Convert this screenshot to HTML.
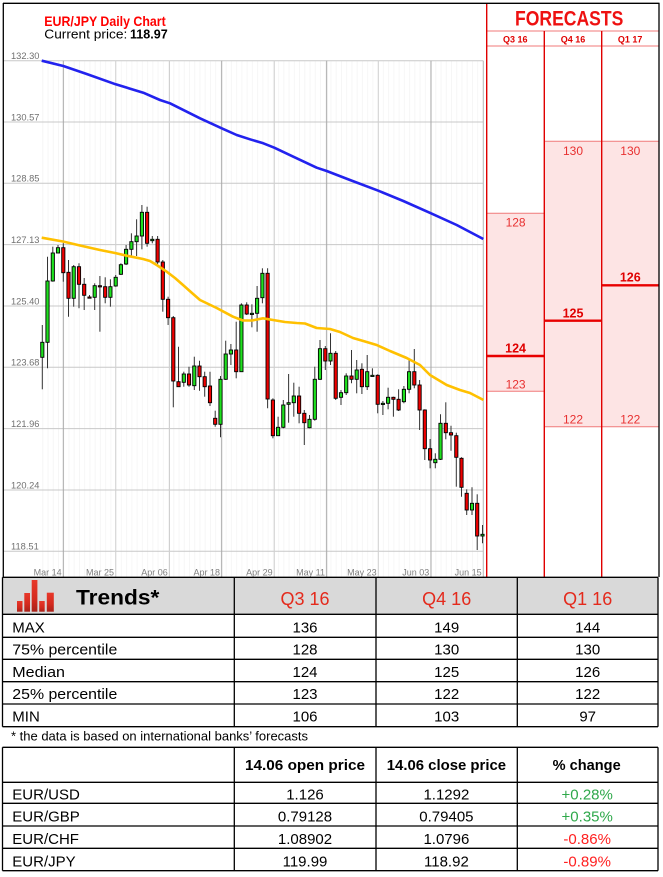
<!DOCTYPE html>
<html><head><meta charset="utf-8"><style>
html,body{margin:0;padding:0;background:#fff;}
svg{display:block;}
text{font-family:"Liberation Sans",sans-serif;}
.g{fill:#1ee01e;stroke:#000;stroke-width:.9}
.r{fill:#ee0000;stroke:#000;stroke-width:.9}
.yl{font-size:9.3px;fill:#707070}
.xl{font-size:9px;fill:#808080;text-anchor:end}
.fc{font-size:12px;fill:#e83030;text-anchor:middle}
.fb{font-size:12.5px;fill:#e00000;font-weight:bold;text-anchor:middle}
.tb{font-size:15px;fill:#000}
.tc{font-size:15px;fill:#000;text-anchor:middle}
.th{font-size:14.5px;fill:#000;font-weight:bold;text-anchor:middle}
</style></head><body>
<svg width="663" height="877" viewBox="0 0 663 877" xmlns="http://www.w3.org/2000/svg">
<defs>
<linearGradient id="bar" x1="0" y1="0" x2="0" y2="1"><stop offset="0" stop-color="#e8382a"/><stop offset="0.6" stop-color="#d42a1e"/><stop offset="1" stop-color="#a8221a"/></linearGradient>
<pattern id="mg" x="42.3" y="0" width="5.24" height="20" patternUnits="userSpaceOnUse"><line x1="0.5" y1="0" x2="0.5" y2="20" stroke="#f6f6f6" stroke-width="1"/></pattern>
</defs>
<rect width="663" height="877" fill="#fff"/>

<!-- minor grid -->
<rect x="41" y="61" width="442" height="516" fill="url(#mg)"/>

<!-- horizontal gridlines -->
<g stroke="#c8c8c8" stroke-width="1">
<line x1="3.5" y1="60.7" x2="483.3" y2="60.7"/>
<line x1="3.5" y1="122" x2="483.3" y2="122"/>
<line x1="3.5" y1="183.3" x2="483.3" y2="183.3"/>
<line x1="3.5" y1="244.6" x2="483.3" y2="244.6"/>
<line x1="3.5" y1="306" x2="483.3" y2="306"/>
<line x1="3.5" y1="367.3" x2="483.3" y2="367.3"/>
<line x1="3.5" y1="428.6" x2="483.3" y2="428.6"/>
<line x1="3.5" y1="490" x2="483.3" y2="490"/>
<line x1="3.5" y1="551.3" x2="483.3" y2="551.3"/>
</g>
<!-- vertical gridlines -->
<g stroke-width="1">
<line x1="63.3" y1="60.7" x2="63.3" y2="577" stroke="#a8a8a8"/>
<line x1="115.7" y1="60.7" x2="115.7" y2="577" stroke="#d0d0d0"/>
<line x1="169.5" y1="60.7" x2="169.5" y2="577" stroke="#d0d0d0"/>
<line x1="221.7" y1="60.7" x2="221.7" y2="577" stroke="#a8a8a8"/>
<line x1="274.3" y1="60.7" x2="274.3" y2="577" stroke="#d0d0d0"/>
<line x1="326.7" y1="60.7" x2="326.7" y2="577" stroke="#a8a8a8"/>
<line x1="378.3" y1="60.7" x2="378.3" y2="577" stroke="#d0d0d0"/>
<line x1="431" y1="60.7" x2="431" y2="577" stroke="#a8a8a8"/>
<line x1="483.3" y1="60.7" x2="483.3" y2="577" stroke="#b8b8b8"/>
</g>

<!-- y labels -->
<text class="yl" x="11" y="59">132.30</text>
<text class="yl" x="11" y="120.3">130.57</text>
<text class="yl" x="11" y="181.6">128.85</text>
<text class="yl" x="11" y="242.9">127.13</text>
<text class="yl" x="11" y="304.3">125.40</text>
<text class="yl" x="11" y="365.6">123.68</text>
<text class="yl" x="11" y="426.9">121.96</text>
<text class="yl" x="11" y="488.3">120.24</text>
<text class="yl" x="11" y="549.6">118.51</text>

<!-- x labels -->
<text class="xl" x="61.6" y="575.5">Mar 14</text>
<text class="xl" x="114" y="575.5">Mar 25</text>
<text class="xl" x="167.8" y="575.5">Apr 06</text>
<text class="xl" x="220" y="575.5">Apr 18</text>
<text class="xl" x="272.6" y="575.5">Apr 29</text>
<text class="xl" x="325" y="575.5">May 11</text>
<text class="xl" x="376.6" y="575.5">May 23</text>
<text class="xl" x="429.3" y="575.5">Jun 03</text>
<text class="xl" x="481.6" y="575.5">Jun 15</text>

<!-- title -->
<text x="44.3" y="26" font-size="14" font-weight="bold" fill="#ff0000" textLength="121.4" lengthAdjust="spacingAndGlyphs">EUR/JPY Daily Chart</text>
<text x="44.3" y="38.3" font-size="13" fill="#000" textLength="83" lengthAdjust="spacingAndGlyphs">Current price:</text>
<text x="130" y="38.3" font-size="13" font-weight="bold" fill="#000" textLength="37.7" lengthAdjust="spacingAndGlyphs">118.97</text>

<!-- blue MA -->
<polyline fill="none" stroke="#2222ee" stroke-width="2.6" stroke-linejoin="round" points="41.7,60.7 63.3,66 86.7,74 115.7,84.3 143.3,92.7 160,100 170,103.3 200,118.3 221.7,128.3 236.7,135 250,139.3 263.3,143.3 274.3,147.7 293.3,156.7 316.7,167.7 326.7,171 350,180 378.3,190.7 403.3,201 431,213.3 456.7,225 483.3,239"/>

<!-- candles -->
<g stroke="#333" stroke-width="1">
<line x1="42.3" y1="325" x2="42.3" y2="389.3"/>
<line x1="47.5" y1="256.7" x2="47.5" y2="368.3"/>
<line x1="52.8" y1="246.7" x2="52.8" y2="281.7"/>
<line x1="58" y1="245" x2="58" y2="253.3"/>
<line x1="63.3" y1="243.3" x2="63.3" y2="281.7"/>
<line x1="68.5" y1="260" x2="68.5" y2="316.7"/>
<line x1="73.7" y1="265" x2="73.7" y2="306.7"/>
<line x1="79" y1="263.3" x2="79" y2="308.3"/>
<line x1="84.2" y1="278" x2="84.2" y2="310"/>
<line x1="89.5" y1="295" x2="89.5" y2="298.3"/>
<line x1="94.7" y1="283.3" x2="94.7" y2="310"/>
<line x1="99.9" y1="276" x2="99.9" y2="331.7"/>
<line x1="105.2" y1="277.3" x2="105.2" y2="303.3"/>
<line x1="110.4" y1="279.3" x2="110.4" y2="306.7"/>
<line x1="115.7" y1="275" x2="115.7" y2="286.7"/>
<line x1="120.9" y1="263.3" x2="120.9" y2="275"/>
<line x1="126.1" y1="245" x2="126.1" y2="265"/>
<line x1="131.4" y1="233.3" x2="131.4" y2="256"/>
<line x1="136.6" y1="219.3" x2="136.6" y2="256"/>
<line x1="141.9" y1="205" x2="141.9" y2="249.3"/>
<line x1="147.1" y1="206.7" x2="147.1" y2="246.7"/>
<line x1="152.3" y1="236" x2="152.3" y2="243.3"/>
<line x1="157.6" y1="236" x2="157.6" y2="264"/>
<line x1="162.8" y1="260" x2="162.8" y2="311.7"/>
<line x1="168.1" y1="296.7" x2="168.1" y2="325"/>
<line x1="173.3" y1="316" x2="173.3" y2="407.3"/>
<line x1="178.5" y1="346.7" x2="178.5" y2="386.7"/>
<line x1="183.8" y1="371.7" x2="183.8" y2="386.7"/>
<line x1="189" y1="366.7" x2="189" y2="386.7"/>
<line x1="194.3" y1="356.7" x2="194.3" y2="390"/>
<line x1="199.5" y1="360.7" x2="199.5" y2="390.7"/>
<line x1="204.7" y1="371.7" x2="204.7" y2="396.7"/>
<line x1="210" y1="371.7" x2="210" y2="406"/>
<line x1="215.2" y1="410.7" x2="215.2" y2="426.7"/>
<line x1="220.5" y1="376" x2="220.5" y2="437.3"/>
<line x1="225.7" y1="340.7" x2="225.7" y2="380"/>
<line x1="230.9" y1="344" x2="230.9" y2="365"/>
<line x1="236.2" y1="321.7" x2="236.2" y2="378.3"/>
<line x1="241.4" y1="303.3" x2="241.4" y2="371.7"/>
<line x1="246.7" y1="302.3" x2="246.7" y2="315"/>
<line x1="251.9" y1="304.3" x2="251.9" y2="327.3"/>
<line x1="257.1" y1="286" x2="257.1" y2="331.7"/>
<line x1="262.4" y1="268.3" x2="262.4" y2="303.3"/>
<line x1="267.6" y1="268.3" x2="267.6" y2="408.3"/>
<line x1="272.9" y1="398.3" x2="272.9" y2="438.3"/>
<line x1="278.1" y1="416.7" x2="278.1" y2="435.7"/>
<line x1="283.3" y1="400" x2="283.3" y2="428.3"/>
<line x1="288.6" y1="374" x2="288.6" y2="422.7"/>
<line x1="293.8" y1="382.7" x2="293.8" y2="416.7"/>
<line x1="299.1" y1="386.7" x2="299.1" y2="423.3"/>
<line x1="304.3" y1="410" x2="304.3" y2="445"/>
<line x1="309.5" y1="415" x2="309.5" y2="428.3"/>
<line x1="314.8" y1="366.7" x2="314.8" y2="420.7"/>
<line x1="320" y1="340" x2="320" y2="380"/>
<line x1="325.3" y1="346" x2="325.3" y2="370"/>
<line x1="330.5" y1="333.3" x2="330.5" y2="365"/>
<line x1="335.7" y1="351" x2="335.7" y2="400"/>
<line x1="341" y1="390" x2="341" y2="405"/>
<line x1="346.2" y1="373.3" x2="346.2" y2="395"/>
<line x1="351.5" y1="350" x2="351.5" y2="383.3"/>
<line x1="356.7" y1="360" x2="356.7" y2="393.3"/>
<line x1="361.9" y1="363.3" x2="361.9" y2="394"/>
<line x1="367.2" y1="355" x2="367.2" y2="390"/>
<line x1="372.4" y1="368.3" x2="372.4" y2="376.7"/>
<line x1="377.7" y1="374.3" x2="377.7" y2="413.3"/>
<line x1="382.9" y1="401" x2="382.9" y2="415"/>
<line x1="388.1" y1="387.7" x2="388.1" y2="409.3"/>
<line x1="393.4" y1="396.7" x2="393.4" y2="416.7"/>
<line x1="398.6" y1="389.3" x2="398.6" y2="411"/>
<line x1="403.9" y1="386" x2="403.9" y2="403.3"/>
<line x1="409.1" y1="360" x2="409.1" y2="393.3"/>
<line x1="414.3" y1="349" x2="414.3" y2="388.3"/>
<line x1="419.6" y1="380" x2="419.6" y2="430"/>
<line x1="424.8" y1="409.3" x2="424.8" y2="460"/>
<line x1="430.1" y1="439" x2="430.1" y2="468.3"/>
<line x1="435.3" y1="453.3" x2="435.3" y2="468.3"/>
<line x1="440.5" y1="414.3" x2="440.5" y2="460"/>
<line x1="445.8" y1="402.3" x2="445.8" y2="439.3"/>
<line x1="451" y1="425.7" x2="451" y2="450.7"/>
<line x1="456.3" y1="432.7" x2="456.3" y2="486.7"/>
<line x1="461.5" y1="457.3" x2="461.5" y2="496.7"/>
<line x1="466.7" y1="489.3" x2="466.7" y2="515"/>
<line x1="472" y1="487.3" x2="472" y2="515"/>
<line x1="477.2" y1="494.3" x2="477.2" y2="550"/>
<line x1="482.5" y1="525" x2="482.5" y2="543.3"/>
</g>
<g>
<rect class="g" x="40.7" y="342.3" width="3.2" height="15"/>
<rect class="g" x="45.9" y="281" width="3.2" height="61.3"/>
<rect class="g" x="51.2" y="253" width="3.2" height="28"/>
<rect class="g" x="56.4" y="247.7" width="3.2" height="5.3"/>
<rect class="r" x="61.7" y="247.7" width="3.2" height="25"/>
<rect class="r" x="66.9" y="272.3" width="3.2" height="26"/>
<rect class="g" x="72.1" y="266.7" width="3.2" height="31.6"/>
<rect class="r" x="77.4" y="266.7" width="3.2" height="17.6"/>
<rect class="r" x="82.6" y="284.3" width="3.2" height="11"/>
<rect class="r" x="87.9" y="297" width="3.2" height="1.2"/>
<rect class="g" x="93.1" y="285.7" width="3.2" height="11.6"/>
<rect class="r" x="98.3" y="285.7" width="3.2" height="1.2"/>
<rect class="r" x="103.6" y="286.7" width="3.2" height="10.6"/>
<rect class="g" x="108.8" y="286.7" width="3.2" height="10.6"/>
<rect class="g" x="114.1" y="277.3" width="3.2" height="8.7"/>
<rect class="g" x="119.3" y="264.7" width="3.2" height="9.6"/>
<rect class="g" x="124.5" y="249.3" width="3.2" height="14.7"/>
<rect class="g" x="129.8" y="241.7" width="3.2" height="7.6"/>
<rect class="g" x="135" y="236" width="3.2" height="5.7"/>
<rect class="g" x="140.3" y="212.3" width="3.2" height="23.7"/>
<rect class="r" x="145.5" y="212.3" width="3.2" height="31"/>
<rect class="g" x="150.7" y="239.3" width="3.2" height="1.4"/>
<rect class="r" x="156" y="239.3" width="3.2" height="22.7"/>
<rect class="r" x="161.2" y="262" width="3.2" height="37.3"/>
<rect class="r" x="166.5" y="299.3" width="3.2" height="18.4"/>
<rect class="r" x="171.7" y="317.7" width="3.2" height="63.3"/>
<rect class="r" x="176.9" y="381.7" width="3.2" height="5"/>
<rect class="g" x="182.2" y="374" width="3.2" height="8.3"/>
<rect class="r" x="187.4" y="374" width="3.2" height="11"/>
<rect class="g" x="192.7" y="366" width="3.2" height="19.7"/>
<rect class="r" x="197.9" y="366" width="3.2" height="10.7"/>
<rect class="r" x="203.1" y="376.7" width="3.2" height="10"/>
<rect class="r" x="208.4" y="386" width="3.2" height="16.7"/>
<rect class="r" x="213.6" y="418.3" width="3.2" height="6"/>
<rect class="g" x="218.9" y="379.3" width="3.2" height="45"/>
<rect class="g" x="224.1" y="354" width="3.2" height="25.3"/>
<rect class="g" x="229.3" y="350" width="3.2" height="4"/>
<rect class="r" x="234.6" y="350" width="3.2" height="21.7"/>
<rect class="g" x="239.8" y="305" width="3.2" height="66.7"/>
<rect class="r" x="245.1" y="305" width="3.2" height="9"/>
<rect class="g" x="250.3" y="313.3" width="3.2" height="1.2"/>
<rect class="g" x="255.5" y="298.3" width="3.2" height="15"/>
<rect class="g" x="260.8" y="273.3" width="3.2" height="24.4"/>
<rect class="r" x="266" y="273.3" width="3.2" height="125.7"/>
<rect class="r" x="271.3" y="400" width="3.2" height="35.7"/>
<rect class="g" x="276.5" y="427.3" width="3.2" height="8.4"/>
<rect class="g" x="281.7" y="405" width="3.2" height="22.3"/>
<rect class="g" x="287" y="402.7" width="3.2" height="1.6"/>
<rect class="g" x="292.2" y="396" width="3.2" height="6.7"/>
<rect class="r" x="297.5" y="396" width="3.2" height="17.3"/>
<rect class="r" x="302.7" y="413.3" width="3.2" height="9.4"/>
<rect class="g" x="307.9" y="419.3" width="3.2" height="8.4"/>
<rect class="g" x="313.2" y="379.3" width="3.2" height="40"/>
<rect class="g" x="318.4" y="348.7" width="3.2" height="30.6"/>
<rect class="r" x="323.7" y="348.7" width="3.2" height="12.3"/>
<rect class="g" x="328.9" y="353.3" width="3.2" height="7.7"/>
<rect class="r" x="334.1" y="353.3" width="3.2" height="45"/>
<rect class="g" x="339.4" y="392.7" width="3.2" height="4.6"/>
<rect class="g" x="344.6" y="376" width="3.2" height="16.7"/>
<rect class="r" x="349.9" y="376" width="3.2" height="3.3"/>
<rect class="g" x="355.1" y="370" width="3.2" height="9.3"/>
<rect class="r" x="360.3" y="369.3" width="3.2" height="17.4"/>
<rect class="g" x="365.6" y="371.7" width="3.2" height="15"/>
<rect class="g" x="370.8" y="375.3" width="3.2" height="1.2"/>
<rect class="r" x="376.1" y="375.3" width="3.2" height="29"/>
<rect class="g" x="381.3" y="403.3" width="3.2" height="1.2"/>
<rect class="g" x="386.5" y="397.3" width="3.2" height="6"/>
<rect class="r" x="391.8" y="397.3" width="3.2" height="2"/>
<rect class="r" x="397" y="399.3" width="3.2" height="10.7"/>
<rect class="g" x="402.3" y="389.3" width="3.2" height="12.4"/>
<rect class="g" x="407.5" y="371.7" width="3.2" height="17.6"/>
<rect class="r" x="412.7" y="371.7" width="3.2" height="13.3"/>
<rect class="r" x="418" y="385" width="3.2" height="25"/>
<rect class="r" x="423.2" y="410" width="3.2" height="38.7"/>
<rect class="r" x="428.5" y="448.7" width="3.2" height="11.3"/>
<rect class="g" x="433.7" y="459.3" width="3.2" height="3.4"/>
<rect class="g" x="438.9" y="423.3" width="3.2" height="36"/>
<rect class="r" x="444.2" y="423.3" width="3.2" height="9.4"/>
<rect class="r" x="449.4" y="432.7" width="3.2" height="2.3"/>
<rect class="r" x="454.7" y="435.7" width="3.2" height="21.6"/>
<rect class="r" x="459.9" y="458.3" width="3.2" height="29"/>
<rect class="r" x="465.1" y="493.3" width="3.2" height="16.7"/>
<rect class="g" x="470.4" y="503.3" width="3.2" height="6.7"/>
<rect class="r" x="475.6" y="503.3" width="3.2" height="32.7"/>
<rect class="g" x="480.9" y="534.3" width="3.2" height="1.7"/>
</g>

<!-- yellow MA -->
<polyline fill="none" stroke="#ffc000" stroke-width="2.6" stroke-linejoin="round" points="41.7,237.7 63,241.5 80,245.5 100,250 115,253 126.7,255.7 143,259 150,261 156.7,265 166.7,271.7 175,278 183,285 192,293 200,300 216.7,308 233,316.7 243,320.5 252,320.5 263,318.3 273,320 285,322 296.7,323 305,323.5 316.7,328 330,329 340,332 353,338 365,341.5 376.7,345 390,351 406.7,358 420,365 430,375 446.7,385 460,390 470,393 483.5,400"/>

<!-- FORECAST panel -->
<rect x="487" y="213.3" width="57.3" height="178" fill="#fde4e4"/>
<rect x="544.3" y="141.3" width="57.4" height="285.4" fill="#fde4e4"/>
<rect x="601.7" y="141.3" width="57.3" height="285.4" fill="#fde4e4"/>
<g stroke="#f07a7a" stroke-width="1">
<line x1="487" y1="213.3" x2="544.3" y2="213.3"/>
<line x1="487" y1="391.3" x2="544.3" y2="391.3"/>
<line x1="544.3" y1="141.3" x2="659" y2="141.3"/>
<line x1="544.3" y1="426.7" x2="659" y2="426.7"/>
<line x1="487" y1="31" x2="659" y2="31"/>
<line x1="487" y1="46" x2="659" y2="46"/>
</g>
<g stroke="#e80000" stroke-width="2.4">
<line x1="487" y1="356" x2="544.3" y2="356"/>
<line x1="544.3" y1="320.7" x2="601.7" y2="320.7"/>
<line x1="601.7" y1="285.3" x2="659" y2="285.3"/>
</g>
<g stroke="#e00000" stroke-width="1.4">
<line x1="486.7" y1="3" x2="486.7" y2="577"/>
<line x1="544.3" y1="31" x2="544.3" y2="577"/>
<line x1="601.7" y1="31" x2="601.7" y2="577"/>
</g>
<text x="515" y="25.3" font-size="21" font-weight="bold" fill="#ee1111" textLength="108.3" lengthAdjust="spacingAndGlyphs">FORECASTS</text>
<text x="515.3" y="42.3" font-size="9" font-weight="bold" fill="#e00000" text-anchor="middle">Q3 16</text>
<text x="573" y="42.3" font-size="9" font-weight="bold" fill="#e00000" text-anchor="middle">Q4 16</text>
<text x="630.2" y="42.3" font-size="9" font-weight="bold" fill="#e00000" text-anchor="middle">Q1 17</text>
<text class="fc" x="515.6" y="226.5">128</text>
<text class="fb" x="515.6" y="352.7">124</text>
<text class="fc" x="515.6" y="388.5">123</text>
<text class="fc" x="573" y="155">130</text>
<text class="fb" x="573" y="317.3">125</text>
<text class="fc" x="573" y="423.3">122</text>
<text class="fc" x="630.3" y="155">130</text>
<text class="fb" x="630.3" y="281.7">126</text>
<text class="fc" x="630.3" y="423.3">122</text>

<!-- outer frame -->
<g stroke="#000" stroke-width="1.3" fill="none">
<line x1="3" y1="3.3" x2="659.5" y2="3.3"/>
<line x1="3.3" y1="3" x2="3.3" y2="577"/>
<line x1="659" y1="3" x2="659" y2="577"/>
</g>

<!-- Trends table -->
<rect x="2.5" y="577.3" width="655.5" height="37" fill="#d9d9d9"/>
<g fill="url(#bar)">
<rect x="17" y="601" width="5.5" height="10.7"/>
<rect x="24.3" y="593" width="5.7" height="18.7"/>
<rect x="31.7" y="580" width="5.7" height="31.7"/>
<rect x="39.2" y="601" width="5.5" height="10.7"/>
<rect x="46.8" y="592.7" width="7" height="19"/>
</g>
<text x="76" y="604.3" font-size="21" font-weight="bold" fill="#000" textLength="83.3" lengthAdjust="spacingAndGlyphs">Trends*</text>
<text x="305" y="605" font-size="18" fill="#e42a1c" text-anchor="middle">Q3 16</text>
<text x="446.7" y="605" font-size="18" fill="#e42a1c" text-anchor="middle">Q4 16</text>
<text x="587.7" y="605" font-size="18" fill="#e42a1c" text-anchor="middle">Q1 16</text>

<text class="tb" x="12.3" y="632.3">MAX</text>
<text class="tb" x="12.3" y="654.5" textLength="105" lengthAdjust="spacingAndGlyphs">75% percentile</text>
<text class="tb" x="12.3" y="676.8" textLength="52.7" lengthAdjust="spacingAndGlyphs">Median</text>
<text class="tb" x="12.3" y="699" textLength="105" lengthAdjust="spacingAndGlyphs">25% percentile</text>
<text class="tb" x="12.3" y="721.7">MIN</text>

<text class="tc" x="305" y="632.3">136</text><text class="tc" x="446.7" y="632.3">149</text><text class="tc" x="587.7" y="632.3">144</text>
<text class="tc" x="305" y="654.5">128</text><text class="tc" x="446.7" y="654.5">130</text><text class="tc" x="587.7" y="654.5">130</text>
<text class="tc" x="305" y="676.8">124</text><text class="tc" x="446.7" y="676.8">125</text><text class="tc" x="587.7" y="676.8">126</text>
<text class="tc" x="305" y="699">123</text><text class="tc" x="446.7" y="699">122</text><text class="tc" x="587.7" y="699">122</text>
<text class="tc" x="305" y="721.7">106</text><text class="tc" x="446.7" y="721.7">103</text><text class="tc" x="587.7" y="721.7">97</text>

<g stroke="#000" stroke-width="1.3">
<line x1="2.5" y1="577.3" x2="658" y2="577.3"/>
<line x1="2.5" y1="614.3" x2="658" y2="614.3"/>
<line x1="2.5" y1="637.3" x2="658" y2="637.3"/>
<line x1="2.5" y1="659.3" x2="658" y2="659.3"/>
<line x1="2.5" y1="681.7" x2="658" y2="681.7"/>
<line x1="2.5" y1="704" x2="658" y2="704"/>
<line x1="2.5" y1="726.7" x2="658" y2="726.7"/>
<line x1="2.5" y1="577.3" x2="2.5" y2="726.7"/>
<line x1="234.3" y1="577.3" x2="234.3" y2="726.7"/>
<line x1="376" y1="577.3" x2="376" y2="726.7"/>
<line x1="517.3" y1="577.3" x2="517.3" y2="726.7"/>
<line x1="658" y1="577.3" x2="658" y2="726.7"/>
</g>

<text x="11" y="740.7" font-size="13" fill="#000" textLength="297" lengthAdjust="spacingAndGlyphs">* the data is based on international banks’ forecasts</text>

<!-- Second table -->
<text class="th" x="305" y="770" textLength="120" lengthAdjust="spacingAndGlyphs">14.06 open price</text>
<text class="th" x="446.4" y="770" textLength="119.3" lengthAdjust="spacingAndGlyphs">14.06 close price</text>
<text class="th" x="586.7" y="770" textLength="68" lengthAdjust="spacingAndGlyphs">% change</text>

<text class="tb" x="12.3" y="799.3">EUR/USD</text>
<text class="tb" x="12.3" y="821.7">EUR/GBP</text>
<text class="tb" x="12.3" y="844">EUR/CHF</text>
<text class="tb" x="12.3" y="866.7">EUR/JPY</text>

<text class="tc" x="305" y="799.3">1.126</text>
<text class="tc" x="305" y="821.7">0.79128</text>
<text class="tc" x="305" y="844">1.08902</text>
<text class="tc" x="305" y="866.7">119.99</text>

<text class="tc" x="446.4" y="799.3">1.1292</text>
<text class="tc" x="446.4" y="821.7">0.79405</text>
<text class="tc" x="446.4" y="844">1.0796</text>
<text class="tc" x="446.4" y="866.7">118.92</text>

<text x="587.2" y="799.3" font-size="15" fill="#2ea84a" text-anchor="middle">+0.28%</text>
<text x="587.2" y="821.7" font-size="15" fill="#2ea84a" text-anchor="middle">+0.35%</text>
<text x="587.2" y="844" font-size="15" fill="#ff2020" text-anchor="middle">-0.86%</text>
<text x="587.2" y="866.7" font-size="15" fill="#ff2020" text-anchor="middle">-0.89%</text>

<g stroke="#000" stroke-width="1.3">
<line x1="2.5" y1="747.3" x2="658" y2="747.3"/>
<line x1="2.5" y1="782.3" x2="658" y2="782.3"/>
<line x1="2.5" y1="803.3" x2="658" y2="803.3"/>
<line x1="2.5" y1="826" x2="658" y2="826"/>
<line x1="2.5" y1="848.3" x2="658" y2="848.3"/>
<line x1="2.5" y1="870.7" x2="658" y2="870.7"/>
<line x1="2.5" y1="747.3" x2="2.5" y2="870.7"/>
<line x1="234.3" y1="747.3" x2="234.3" y2="870.7"/>
<line x1="376" y1="747.3" x2="376" y2="870.7"/>
<line x1="517.3" y1="747.3" x2="517.3" y2="870.7"/>
<line x1="658" y1="747.3" x2="658" y2="870.7"/>
</g>
</svg>
</body></html>
